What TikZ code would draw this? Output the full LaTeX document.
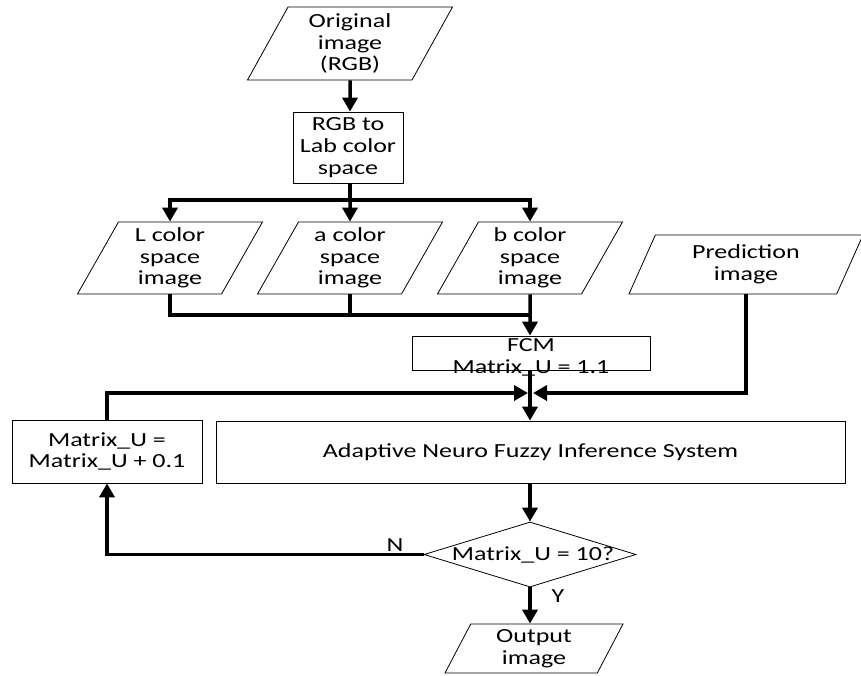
\documentclass[tikz,border=0pt]{standalone}
\usepackage{fontspec}
\setmainfont{Carlito}[FakeStretch=1.3]
\usetikzlibrary{shapes.geometric,arrows.meta}
\begin{document}
\begin{tikzpicture}[x=1pt,y=-1pt,
  every node/.style={font=\fontsize{20}{21.7}\selectfont},
  io/.style={trapezium, trapezium left angle=56, trapezium right angle=124,
    trapezium stretches body, draw, line width=0.8pt, align=center, inner sep=0pt},
  proc/.style={rectangle, draw, line width=0.8pt, align=center, inner sep=0pt},
  dec/.style={diamond, draw, line width=0.8pt, inner sep=0pt, aspect=3.26},
  flow/.style={line width=3.5pt, line join=miter},
  conn/.style={flow, -{Triangle[length=14pt,width=15pt]}},
  lbl/.style={inner sep=0pt}]
\useasboundingbox (0,0) rectangle (861,675);
\node[io, minimum width=205pt, minimum height=73pt] (orig) at (350,43.5) {Original\\image\\(RGB)};
\node[proc, minimum width=110pt, minimum height=71pt] (rgb) at (348,147.5) {RGB to\\Lab color\\space};
\node[io, minimum width=185pt, minimum height=72pt] (L) at (170,258) {L color\\space\\image};
\node[io, minimum width=185pt, minimum height=72pt] (A) at (350,258) {a color\\space\\image};
\node[io, minimum width=185pt, minimum height=72pt] (B) at (530,258) {b color\\space\\image};
\node[io, minimum width=234pt, minimum height=59pt] (pred) at (746,264.5) {Prediction\\image};
\node[proc, minimum width=238pt, minimum height=34pt] (fcm) at (531,353) {};
\node[lbl, align=center] (fcmtext) at (531,357) {FCM\\Matrix\_U = 1.1};
\node[proc, minimum width=629pt, minimum height=62pt] (anfis) at (530.5,452) {Adaptive Neuro Fuzzy Inference System};
\node[proc, minimum width=190pt, minimum height=63pt] (mu) at (107,451.5) {Matrix\_U =\\Matrix\_U + 0.1};
\node[dec, minimum width=212pt, minimum height=65pt] (dec) at (530,554.5) {};
\node[lbl] (dectext) at (533,554.5) {Matrix\_U = 10?};
\node[io, minimum width=178pt, minimum height=49pt] (out) at (534,648.5) {Output\\image};
\node[lbl] (nlab) at (395,545) {N};
\node[lbl] (ylab) at (558,596) {Y};
\coordinate (br) at (350,200);
\coordinate (mg) at (530,315);
\coordinate (jn) at (530,393);
\coordinate (jl) at (528,393);
\coordinate (jr) at (533,393);
\draw[conn] (orig) -- (rgb.north -| orig);
\draw[flow] (rgb.south -| br) -- (br);
\draw[conn] (br) -| (L.north);
\draw[conn] (br) -| (B.north);
\draw[conn] (br) -- (A.north);
\draw[flow] (L.south) |- (mg);
\draw[flow] (A.south) -- (A.south |- mg);
\draw[conn] (B.south) -- (mg) -- (mg |- fcm.north);
\draw[conn] (fcm.south -| jn) -- (jn |- anfis.north);
\draw[conn] (mu.north) |- (jl);
\draw[conn] (pred.south) |- (jr);
\draw[conn] (anfis.south -| dec) -- (dec.north);
\draw[conn] (dec.west) -| (mu.south);
\draw[conn] (dec.south) -- (dec.south |- out.north);
\end{tikzpicture}
\end{document}
